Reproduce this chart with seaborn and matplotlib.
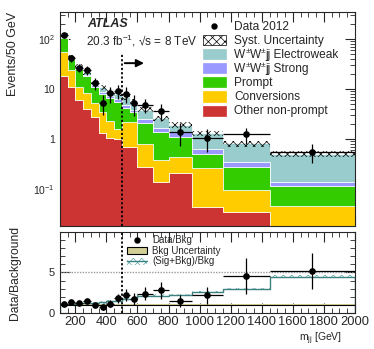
import matplotlib
matplotlib.use("Agg")
import matplotlib.pyplot as plt
from matplotlib.patches import Rectangle
from matplotlib.lines import Line2D
from matplotlib.ticker import MultipleLocator, LogLocator, NullFormatter
import seaborn as sns
import numpy as np
import pandas as pd

# m_jj binning [GeV]
edges = [100, 150, 200, 250, 300, 350, 400, 450, 500, 550, 600, 700, 800, 950, 1150, 1450, 2000]

# stacked predictions, events / 50 GeV
other_np = [18, 11, 6.0, 4.0, 2.7, 1.35, 1.07, 0.98, 0.70, 0.70, 0.27, 0.14, 0.21, 0.044, 0.035, 0.012]
conversions = [38, 13, 5.0, 4.2, 2.5, 2.05, 1.23, 0.62, 1.5, 1.5, 0.53, 0.24, 0.23, 0.216, 0.06, 0.034]
prompt = [50, 16, 14.5, 9.8, 5.8, 4.6, 4.3, 3.9, 1.9, 1.2, 1.3, 1.02, 0.67, 0.24, 0.185, 0.069]
ww_strong = [6, 2, 1.5, 1.5, 1.0, 0.8, 0.8, 0.7, 0.6, 0.5, 0.4, 0.23, 0.29, 0.12, 0.06, 0.025]
ww_ewk = [8, 3, 2, 2, 2, 2, 1.8, 1.7, 2.1, 1.7, 1.4, 0.97, 0.55, 0.68, 0.48, 0.36]
syst_rel = [0.08, 0.09, 0.09, 0.10, 0.10, 0.10, 0.10, 0.10, 0.11, 0.11, 0.12, 0.12, 0.13, 0.13, 0.14, 0.14]

# data 2012
data_vals = [118, 42, 27, 24, 13, 5.3, 8.2, 9.3, 8.0, 5.2, 4.8, 3.7, 1.4, 1.05, 1.24, 0.56]
data_err = [11, 6.5, 5.2, 4.9, 3.6, 2.3, 2.9, 3.0, 2.8, 2.3, 1.55, 1.36, 0.68, 0.51, 0.45, 0.23]

# ratio panel
ratio_vals = [1.07, 1.32, 1.24, 1.48, 0.99, 0.70, 1.15, 1.81, 2.22, 1.73, 2.4, 2.8, 1.48, 2.2, 4.6, 5.2]
ratio_err = [0.1, 0.2, 0.24, 0.3, 0.28, 0.3, 0.4, 0.58, 0.78, 0.76, 0.78, 1.03, 0.72, 1.07, 2.2, 2.2]
sigbkg_ratio = [1.1, 1.15, 1.2, 1.2, 1.25, 1.3, 1.45, 1.5, 1.7, 1.7, 2.1, 2.15, 2.2, 2.6, 2.95, 4.5]
sigbkg_unc = [0.15] * 16
bkg_unc = [0.08] * 16

proc_names = ["WWjj Electroweak", "WWjj Strong", "Prompt", "Conversions", "Other non-prompt"]
# legend labels as (text, superscript?) pieces
proc_labels = [
    [("W", False), ("\u00b1", True), ("W", False), ("\u00b1", True), ("jj Electroweak", False)],
    [("W", False), ("\u00b1", True), ("W", False), ("\u00b1", True), ("jj Strong", False)],
    [("Prompt", False)],
    [("Conversions", False)],
    [("Other non-prompt", False)],
]
proc_colors = ["#99cccc", "#9999ff", "#33cc00", "#ffcc00", "#cc3333"]
proc_vals = [ww_ewk, ww_strong, prompt, conversions, other_np]

sns.set_style("ticks")
plt.rcParams["font.family"] = ["Liberation Sans", "DejaVu Sans"]
plt.rcParams["mathtext.fontset"] = "custom"
plt.rcParams["mathtext.rm"] = "Liberation Sans"
plt.rcParams["mathtext.it"] = "Liberation Sans:italic"
plt.rcParams["mathtext.bf"] = "Liberation Sans:bold"
plt.rcParams["hatch.linewidth"] = 0.5
plt.rcParams["axes.linewidth"] = 0.8

W, H = 374, 349

edges_a = np.array(edges, dtype=float)
centers = 0.5 * (edges_a[1:] + edges_a[:-1])
half_w = 0.5 * (edges_a[1:] - edges_a[:-1])

rows = []
for name, vals in zip(proc_names, proc_vals):
    for c, v in zip(centers, vals):
        rows.append({"mjj": c, "events": v, "process": name})
df = pd.DataFrame(rows)

fig = plt.figure(figsize=(3.74, 3.49), dpi=100)
ax1 = fig.add_axes([0.160, 0.3524, 0.789, 0.613])
ax2 = fig.add_axes([0.160, 0.1032, 0.789, 0.232])
renderer = fig.canvas.get_renderer()


def fpx(x, y):
    # pixel position (from top left) -> figure fraction
    return x / W, 1 - y / H


def chain_text(x, y, pieces, size):
    # write text pieces one after the other, superscripts smaller and raised
    for s, sup in pieces:
        fs = size * 0.7 if sup else size
        dy = size * 0.55 if sup else 0
        xt, yt = fpx(x, y - dy)
        t = fig.text(xt, yt, s, fontsize=fs, va="baseline", ha="left")
        x += t.get_window_extent(renderer).width


def legend_row(y, handle, pieces, x_box, box_w, box_h, x_txt, size, **kw):
    x0, y0 = fpx(x_box, y + box_h / 2)
    if handle == "dot":
        xc, yc = fpx(x_box + box_w / 2, y)
        fig.add_artist(Line2D([xc], [yc], marker="o", color="black", ms=3.6,
                              transform=fig.transFigure))
    else:
        fig.add_artist(Rectangle((x0, y0), box_w / W, box_h / H, transform=fig.transFigure, **kw))
        if handle == "band+line":
            xa, ya = fpx(x_box, y)
            xb, _ = fpx(x_box + box_w, y)
            fig.add_artist(Line2D([xa, xb], [ya, ya], color="#3d8080", lw=1.0,
                                  transform=fig.transFigure))
    chain_text(x_txt, y + size * 0.45, pieces, size)


# Upper panel: stacked prediction
sns.histplot(data=df, x="mjj", weights="events", hue="process", hue_order=proc_names,
             palette=dict(zip(proc_names, proc_colors)), bins=edges, multiple="stack",
             element="step", fill=True, alpha=1, linewidth=0.5, legend=False, ax=ax1)

total = np.sum([np.array(v) for v in proc_vals], axis=0)
syst = np.array(syst_rel)
ax1.stairs(total * (1 + syst), edges, baseline=total * (1 - syst), fill=True,
           facecolor="none", edgecolor="black", hatch="xxxx", linewidth=0)

ax1.errorbar(centers, data_vals, xerr=half_w, yerr=data_err, fmt="o", color="black",
             ms=3.8, elinewidth=0.9, capsize=0)

ax1.set_yscale("log")
ax1.set_xlim(100, 2000)
ax1.set_ylim(0.0182, 347)

# cut and arrow
ax1.plot([500, 500], [0.0182, 52], color="black", lw=1.3, ls=(0, (1.2, 1.2)))
ax1.annotate("", xy=(660, 33), xytext=(500, 33),
             arrowprops=dict(arrowstyle="-|>", color="black", lw=1.4, mutation_scale=11))

ax1.text(0.092, 0.972, "ATLAS", transform=ax1.transAxes, fontsize=9, fontweight="bold",
         fontstyle="italic", va="top")
ax1.text(0.088, 0.905, "20.3 fb$^{-1}$, \u221As = 8 TeV", transform=ax1.transAxes,
         fontsize=8.5, va="top")

# upper legend
up_rows = [26 + 14.1 * i for i in range(7)]
legend_row(up_rows[0], "dot", [("Data 2012", False)], 203, 23, 10, 234, 8.6)
legend_row(up_rows[1], "box", [("Syst. Uncertainty", False)], 203, 23, 10, 234, 8.6,
           facecolor="white", edgecolor="black", hatch="xxxx", lw=0.5)
for yy, pieces, col in zip(up_rows[2:], proc_labels, proc_colors):
    legend_row(yy, "box", pieces, 203, 23, 10, 234, 8.6, facecolor=col, edgecolor=col, lw=0.5)

ax1.set_ylabel("Events/50 GeV", fontsize=9, loc="top")
ax1.yaxis.set_label_coords(-0.14, 1.0)
ax1.set_xlabel("")
ax1.set_yticks([0.1, 1, 10, 100])
ax1.set_yticklabels(["10$^{-1}$", "1", "10", "10$^{2}$"])
ax1.yaxis.set_minor_locator(LogLocator(base=10, subs=np.arange(2, 10)))
ax1.yaxis.set_minor_formatter(NullFormatter())

# Lower panel: ratio
ax2.axhline(5, color="#999999", lw=1.0, ls=(0, (1, 1)))
ax2.stairs(1 + np.array(bkg_unc), edges, baseline=1 - np.array(bkg_unc), fill=True,
           color="#d2cf96", linewidth=0)
ax2.axhline(1, color="black", lw=0.8)
sr = np.array(sigbkg_ratio)
su = np.array(sigbkg_unc)
ax2.stairs(sr + su, edges, baseline=sr - su, fill=True, facecolor="none",
           edgecolor="#5fa8a8", hatch="xxxx", linewidth=0)
ax2.stairs(sr, edges, color="#3d8080", linewidth=1.0)
ax2.plot([500, 500], [0, 10], color="black", lw=1.3, ls=(0, (1.2, 1.2)))
ax2.errorbar(centers, ratio_vals, xerr=half_w, yerr=ratio_err, fmt="o", color="black",
             ms=3.8, elinewidth=0.9, capsize=0)

ax2.set_xlim(100, 2000)
ax2.set_ylim(0, 10)
ax2.set_yticks([0, 5])
ax2.yaxis.set_minor_locator(MultipleLocator(1))

# lower legend
lo_rows = [240, 250.5, 261]
legend_row(lo_rows[0], "dot", [("Data/Bkg", False)], 127, 20, 7, 152, 7)
legend_row(lo_rows[1], "box", [("Bkg Uncertainty", False)], 127, 20, 7, 152, 7,
           facecolor="#d2cf96", edgecolor="black", lw=0.8)
legend_row(lo_rows[2], "band+line", [("(Sig+Bkg)/Bkg", False)], 127, 20, 7, 152, 7,
           facecolor="white", edgecolor="#5fa8a8", hatch="xxxx", lw=0)

ax2.set_ylabel("Data/Background", fontsize=8.7)
ax2.yaxis.set_label_coords(-0.13, 0.5)
ax2.set_xlabel("m$_{\\mathrm{jj}}$ [GeV]", fontsize=7.5, loc="right")
ax2.xaxis.set_label_coords(0.955, -0.22)

for ax in (ax1, ax2):
    ax.xaxis.set_major_locator(MultipleLocator(200))
    ax.xaxis.set_minor_locator(MultipleLocator(50))
    ax.tick_params(which="both", direction="in", top=True, right=True, labelsize=9)
    ax.tick_params(which="major", length=7, width=0.8)
    ax.tick_params(which="minor", length=3.5, width=0.6)
ax1.tick_params(labelbottom=False)
ax1.tick_params(axis="y", labelsize=7.5)
ax2.tick_params(axis="y", labelsize=8)
ax2.tick_params(axis="x", labelsize=9.3, pad=2)

fig.savefig("out.png", dpi=100)
